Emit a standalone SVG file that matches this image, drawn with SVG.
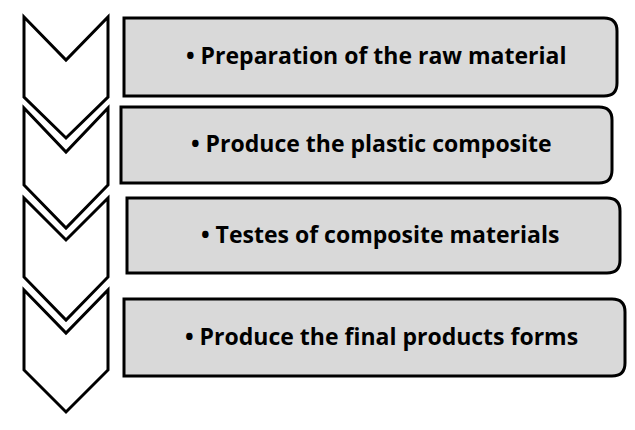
<svg xmlns="http://www.w3.org/2000/svg" width="635" height="430" viewBox="0 0 635 430">
<style>
.ch{fill:#fff;stroke:#000;stroke-width:3;stroke-linejoin:miter}
.bx{fill:#d9d9d9;stroke:#000;stroke-width:3}
.t{font-family:"Open Sans","Liberation Sans",sans-serif;font-weight:bold;font-size:23px;fill:#000}
</style>
<rect width="635" height="430" fill="#fff"/>
<g id="chevrons">
<g id="c1"><path class="ch" d="M24,17 L66,60 L108,17 L108,97 L66,138 L24,97 Z"/></g>
<g id="c2"><path class="ch" d="M24,108 L66,152 L108,108 L108,185 L66,228 L24,185 Z"/></g>
<g id="c3"><path class="ch" d="M24,198 L66,240 L108,198 L108,277 L66,320 L24,277 Z"/></g>
<g id="c4"><path class="ch" d="M24,290 L66,333 L108,290 L108,370 L66,412 L24,370 Z"/></g>
</g>
<g id="n1"><path class="bx" d="M124,18 H604 Q617,18 617,31 V83 Q617,96 604,96 H124 Z"/>
<text class="t" x="186" y="64">• Preparation of the raw material</text></g>
<g id="n2"><path class="bx" d="M121,107 H599 Q612,107 612,120 V170 Q612,183 599,183 H121 Z"/>
<text class="t" x="191" y="152">• Produce the plastic composite</text></g>
<g id="n3"><path class="bx" d="M127,198 H607 Q620,198 620,211 V260 Q620,273 607,273 H127 Z"/>
<text class="t" x="201" y="243">• Testes of composite materials</text></g>
<g id="n4"><path class="bx" d="M124,299 H612 Q625,299 625,312 V363 Q625,376 612,376 H124 Z"/>
<text class="t" x="185" y="345">• Produce the final products forms</text></g>
</svg>
